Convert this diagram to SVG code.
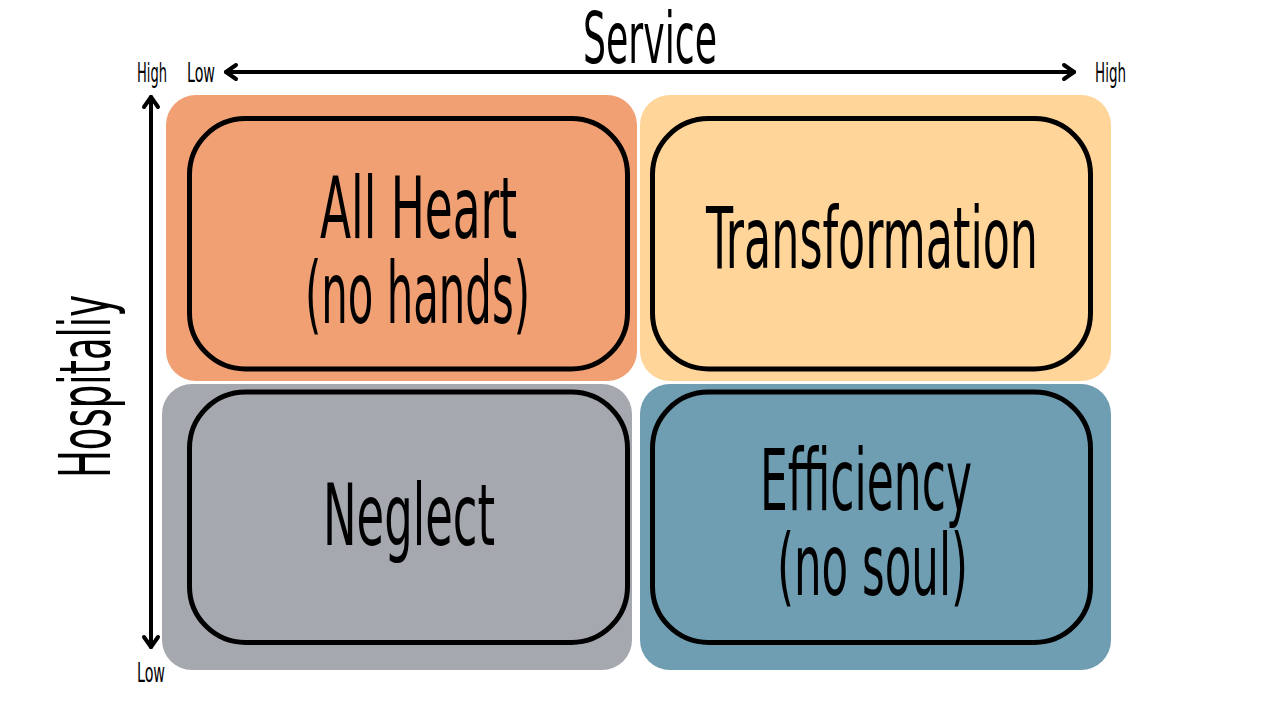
<svg xmlns="http://www.w3.org/2000/svg" width="1280" height="720" viewBox="0 0 1280 720">
  <style>
    text { font-family: "Liberation Sans Narrow", "DejaVu Sans Condensed", "Liberation Sans", sans-serif; fill: #000; }
    .big { font-size: 86px; }
    .axis { font-size: 72px; }
    .tick { font-size: 26px; }
    .card { fill: none; stroke: #000; stroke-width: 5; }
    .ax { fill: none; stroke: #000; stroke-width: 4; stroke-linecap: round; stroke-linejoin: round; }
  </style>
  <rect width="1280" height="720" fill="#fff"/>

  <g id="quadrant-all-heart">
    <rect x="166" y="95" width="471" height="286" rx="30" fill="#F0A073"/>
    <rect class="card" x="189.5" y="118.5" width="438" height="250.5" rx="56"/>
    <text class="big" x="320" y="238" textLength="197" lengthAdjust="spacingAndGlyphs">All Heart</text>
    <text class="big" x="305" y="323" textLength="225" lengthAdjust="spacingAndGlyphs">(no hands)</text>
  </g>

  <g id="quadrant-transformation">
    <rect x="640" y="95" width="471" height="286" rx="30" fill="#FFD599"/>
    <rect class="card" x="652.5" y="118.5" width="438" height="250.5" rx="56"/>
    <text class="big" x="706" y="268" textLength="332" lengthAdjust="spacingAndGlyphs">Transformation</text>
  </g>

  <g id="quadrant-neglect">
    <rect x="162" y="384" width="470" height="286" rx="30" fill="#A5A9AF"/>
    <rect class="card" x="189.5" y="392" width="438" height="250.5" rx="56"/>
    <text class="big" x="323" y="545" textLength="172" lengthAdjust="spacingAndGlyphs">Neglect</text>
  </g>

  <g id="quadrant-efficiency">
    <rect x="640" y="384" width="471" height="286" rx="30" fill="#6F9DB1"/>
    <rect class="card" x="652.5" y="392" width="438" height="250.5" rx="56"/>
    <text class="big" x="760" y="510" textLength="212" lengthAdjust="spacingAndGlyphs">Efficiency</text>
    <text class="big" x="777" y="595" textLength="191" lengthAdjust="spacingAndGlyphs">(no soul)</text>
  </g>

  <g id="axes">
    <line class="ax" x1="226" y1="72" x2="1074" y2="72"/>
    <polyline class="ax" points="236,65 226,72 236,79"/>
    <polyline class="ax" points="1064,65 1074,72 1064,79"/>
    <line class="ax" x1="151" y1="97" x2="151" y2="647"/>
    <polyline class="ax" points="144,107 151,97 158,107"/>
    <polyline class="ax" points="144,637 151,647 158,637"/>
  </g>

  <g id="labels">
    <text class="axis" x="583" y="63" textLength="134" lengthAdjust="spacingAndGlyphs">Service</text>
    <text class="axis" transform="translate(110,478) rotate(-90)" x="0" y="0" textLength="183" lengthAdjust="spacingAndGlyphs">Hospitaliy</text>
    <text class="tick" x="137" y="82" textLength="30" lengthAdjust="spacingAndGlyphs">High</text>
    <text class="tick" x="187" y="82" textLength="28" lengthAdjust="spacingAndGlyphs">Low</text>
    <text class="tick" x="1095" y="82" textLength="31" lengthAdjust="spacingAndGlyphs">High</text>
    <text class="tick" x="137" y="682" textLength="28" lengthAdjust="spacingAndGlyphs">Low</text>
  </g>
</svg>
